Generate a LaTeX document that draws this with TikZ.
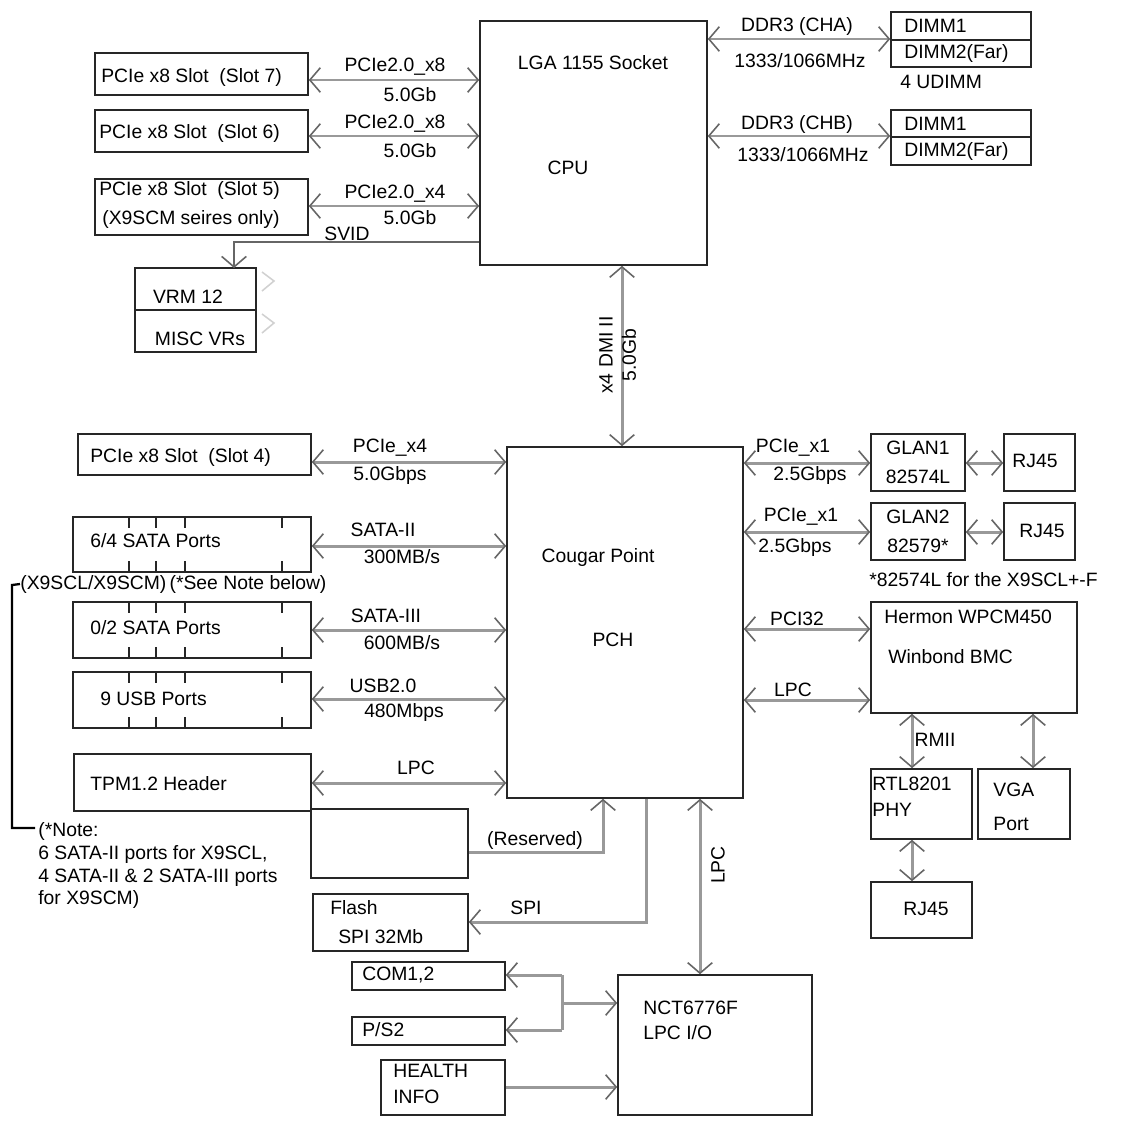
\documentclass[tikz,border=0pt]{standalone}
\usepackage{fontspec}
\setmainfont{Liberation Sans}
\usetikzlibrary{arrows.meta}
\tikzset{
  boxst/.style={draw=black!85,line width=0.9pt,inner sep=0pt},
  lbl/.style={inner sep=0pt,font=\fontsize{11}{13}\selectfont},
  bus/.style={draw=black!40,line width=1.7pt,arrows={Straight Barb[length=6pt,width=14pt,line width=0.9pt,color=black!60]-Straight Barb[length=6pt,width=14pt,line width=0.9pt,color=black!60]}},
  bus1/.style={draw=black!40,line width=1.7pt,arrows={-Straight Barb[length=6pt,width=14pt,line width=0.9pt,color=black!60]}},
  thin/.style={draw=black!85,line width=0.9pt},
}
\newcommand\mybox[5]{\node[boxst,minimum width=#4*0.02cm-#2*0.02cm,minimum height=#5*0.02cm-#3*0.02cm] (#1) at ({(#2+#4)/2},{(#3+#5)/2}) {};}
\begin{document}
\begin{tikzpicture}[x=0.02cm,y=-0.02cm]
\useasboundingbox (0,0) rectangle (1128,1126);
% CPU
\mybox{cpu}{480}{21}{707}{265}
\node[lbl] (cput1) at (593,63) {LGA 1155 Socket};
\node[lbl] (cput2) at (568,168) {CPU};
% slots
\mybox{s7}{95}{53}{308}{95}
\node[lbl,anchor=west] (s7t) at (101,77) {PCIe x8 Slot~~(Slot 7)};
\mybox{s6}{95}{110}{308}{152}
\node[lbl,anchor=west] (s6t) at (99,133) {PCIe x8 Slot~~(Slot 6)};
\mybox{s5}{95}{179}{308}{235}
\node[lbl,anchor=west] (s5t) at (99,190) {PCIe x8 Slot~~(Slot 5)};
\node[lbl,anchor=west] (s5u) at (102,219) {(X9SCM seires only)};
\draw[bus] (s7.east |- 0,80) -- (cpu.west |- 0,80);
\draw[bus] (s6.east |- 0,136) -- (cpu.west |- 0,136);
\draw[bus] (s5.east |- 0,206) -- (cpu.west |- 0,206);
\node[lbl] (l1a) at (395,67) {PCIe2.0\_x8};
\node[lbl] (l1b) at (410,95) {5.0Gb};
\node[lbl] (l2a) at (395,124) {PCIe2.0\_x8};
\node[lbl] (l2b) at (410,151) {5.0Gb};
\node[lbl] (l3a) at (395,194) {PCIe2.0\_x4};
\node[lbl] (l3b) at (410,218) {5.0Gb};
% VRM
\mybox{vrm}{135}{268}{256}{352}
\draw[thin] (vrm.west |- 0,310) -- (vrm.east |- 0,310);
\node[lbl] (vrmt) at (188,297) {VRM 12};
\node[lbl] (misct) at (200,339) {MISC VRs};
\draw[bus1,black!60,line width=0.9pt] (cpu.west |- 0,242) -| (234,268);
\node[lbl] (svid) at (347,234) {SVID};
\draw[black!18,line width=0.9pt] (262,272) -- (274,281) -- (262,291) (262,314) -- (274,323) -- (262,333);
% DIMM
\mybox{da}{891}{12}{1031}{67}
\draw[thin] (da.west |- 0,40) -- (da.east |- 0,40);
\node[lbl,anchor=west] (da1) at (904,26) {DIMM1};
\node[lbl,anchor=west] (da2) at (904,53) {DIMM2(Far)};
\node[lbl,anchor=west] (udimm) at (900,82) {4 UDIMM};
\mybox{db}{891}{110}{1031}{165}
\draw[thin] (db.west |- 0,137) -- (db.east |- 0,137);
\node[lbl,anchor=west] (db1) at (904,124) {DIMM1};
\node[lbl,anchor=west] (db2) at (904,151) {DIMM2(Far)};
\draw[bus] (cpu.east |- 0,39) -- (da.west |- 0,39);
\draw[bus] (cpu.east |- 0,136) -- (db.west |- 0,136);
\node[lbl] (ma1) at (797,26) {DDR3 (CHA)};
\node[lbl] (ma2) at (800,61) {1333/1066MHz};
\node[lbl] (mb1) at (797,124) {DDR3 (CHB)};
\node[lbl] (mb2) at (803,155) {1333/1066MHz};
% PCH
\mybox{pch}{507}{447}{743}{798}
\node[lbl] (pcht1) at (598,557) {Cougar Point};
\node[lbl] (pcht2) at (613,640) {PCH};
\draw[bus] (cpu.south -| 622,0) -- (pch.north -| 622,0);
\node[lbl,rotate=90] (dmi1) at (606,355) {x4 DMI II};
\node[lbl,rotate=90] (dmi2) at (629,355) {5.0Gb};
% left of PCH
\mybox{s4}{78}{434}{311}{475}
\node[lbl,anchor=west] (s4t) at (90,457) {PCIe x8 Slot~~(Slot 4)};
\mybox{sa}{73}{517}{311}{572}
\node[lbl,anchor=west] (sat) at (90,541) {6/4 SATA Ports};
\mybox{sb}{73}{602}{311}{658}
\node[lbl,anchor=west] (sbt) at (90,628) {0/2 SATA Ports};
\mybox{usb}{73}{672}{311}{728}
\node[lbl,anchor=west] (usbt) at (100,699) {9 USB Ports};
\foreach \b in {sa,sb,usb}{
  \foreach \x in {129,156,185,282}{
    \draw[thin] (\b.north -| \x,0) -- ++(0,12);
    \draw[thin] (\b.south -| \x,0) -- ++(0,-12);
  }}
\draw[thin] (145,517) -- (158,517);
\mybox{tpm}{74}{754}{311}{811}
\node[lbl,anchor=west] (tpmt) at (90,784) {TPM1.2 Header};
\draw[bus] (s4.east |- 0,462) -- (pch.west |- 0,462);
\draw[bus] (sa.east |- 0,546) -- (pch.west |- 0,546);
\draw[bus] (sb.east |- 0,630) -- (pch.west |- 0,630);
\draw[bus] (usb.east |- 0,699) -- (pch.west |- 0,699);
\draw[bus] (tpm.east |- 0,783) -- (pch.west |- 0,783);
\node[lbl] (p4a) at (390,448) {PCIe\_x4};
\node[lbl] (p4b) at (390,475) {5.0Gbps};
\node[lbl] (saa) at (383,530) {SATA-II};
\node[lbl] (sab) at (402,557) {300MB/s};
\node[lbl] (sba) at (386,616) {SATA-III};
\node[lbl] (sbb) at (402,643) {600MB/s};
\node[lbl] (ua) at (383,686) {USB2.0};
\node[lbl] (ub) at (404,712) {480Mbps};
\node[lbl] (lpca) at (416,768) {LPC};
\node[lbl,anchor=west] (note1) at (20,584) {(X9SCL/X9SCM)\,(*See Note below)};
\coordinate (brt) at (12,585);
\coordinate (brb) at (12,828);
\draw[black,line width=1.3pt] (note1.west) -- (brt) -- (brb) -- (35,828);
\node[lbl,anchor=north west,align=left] (note2) at (38,822) {(*Note:\\6 SATA-II ports for X9SCL,\\4 SATA-II \& 2 SATA-III ports\\for X9SCM)};
% Reserved & flash
\mybox{res}{311}{809}{468}{878}
\mybox{fl}{313}{894}{468}{951}
\node[lbl,anchor=west] (flt1) at (330,908) {Flash};
\node[lbl,anchor=west] (flt2) at (338,937) {SPI 32Mb};
\draw[bus1] (res.east |- 0,852) -| (pch.south -| 603,0);
\node[lbl] (rest) at (535,840) {(Reserved)};
\draw[bus1] (pch.south -| 646,0) |- (fl.east |- 0,922);
\node[lbl] (spit) at (526,908) {SPI};
% NCT
\mybox{nct}{618}{975}{812}{1115}
\node[lbl,anchor=west] (nt1) at (643,1008) {NCT6776F};
\node[lbl,anchor=west] (nt2) at (643,1033) {LPC I/O};
\draw[bus] (pch.south -| 700,0) -- (nct.north -| 700,0);
\node[lbl,rotate=90] (lpcv) at (718,865) {LPC};
\mybox{com}{352}{962}{505}{990}
\node[lbl,anchor=west] (comt) at (362,975) {COM1,2};
\mybox{ps}{352}{1017}{505}{1045}
\node[lbl,anchor=west] (pst) at (362,1030) {P/S2};
\mybox{hi}{381}{1060}{505}{1115}
\node[lbl,anchor=west] (hit1) at (393,1071) {HEALTH};
\node[lbl,anchor=west] (hit2) at (393,1097) {INFO};
\coordinate (jn) at (562,1003);
\draw[bus1] (562,975) -- (com.east |- 0,975);
\draw[bus1] (562,1030) -- (ps.east |- 0,1030);
\draw[draw=black!40,line width=1.7pt] (562,975) -- (562,1030);
\draw[bus1] (jn) -- (nct.west |- jn);
\draw[bus1] (hi.east |- 0,1087) -- (nct.west |- 0,1087);
% right side
\mybox{g1}{871}{434}{965}{491}
\node[lbl] (g1t1) at (918,448) {GLAN1};
\node[lbl] (g1t2) at (918,477) {82574L};
\mybox{r1}{1004}{434}{1075}{491}
\node[lbl] (r1t) at (1035,461) {RJ45};
\mybox{g2}{871}{503}{965}{560}
\node[lbl] (g2t1) at (918,517) {GLAN2};
\node[lbl] (g2t2) at (918,546) {82579*};
\mybox{r2}{1004}{503}{1075}{560}
\node[lbl] (r2t) at (1042,531) {RJ45};
\node[lbl,anchor=west] (gnote) at (869,580) {*82574L for the X9SCL+-F};
\draw[bus] (pch.east |- 0,463) -- (g1.west |- 0,463);
\draw[bus] (pch.east |- 0,532) -- (g2.west |- 0,532);
\draw[bus] (g1.east |- 0,463) -- (r1.west |- 0,463);
\draw[bus] (g2.east |- 0,532) -- (r2.west |- 0,532);
\node[lbl] (x1a) at (793,448) {PCIe\_x1};
\node[lbl] (x1b) at (810,475) {2.5Gbps};
\node[lbl] (x2a) at (801,517) {PCIe\_x1};
\node[lbl] (x2b) at (795,547) {2.5Gbps};
\mybox{bmc}{871}{602}{1077}{713}
\node[lbl,anchor=west] (bt1) at (884,617) {Hermon WPCM450};
\node[lbl,anchor=west] (bt2) at (888,657) {Winbond BMC};
\draw[bus] (pch.east |- 0,629) -- (bmc.west |- 0,629);
\draw[bus] (pch.east |- 0,700) -- (bmc.west |- 0,700);
\node[lbl] (pci) at (797,619) {PCI32};
\node[lbl] (lpcr) at (793,690) {LPC};
\mybox{rtl}{871}{769}{972}{839}
\node[lbl,anchor=west] (rtt1) at (872,784) {RTL8201};
\node[lbl,anchor=west] (rtt2) at (872,810) {PHY};
\mybox{vga}{978}{769}{1070}{839}
\node[lbl,anchor=west] (vt1) at (993,790) {VGA};
\node[lbl,anchor=west] (vt2) at (993,824) {Port};
\mybox{r3}{871}{882}{972}{938}
\node[lbl] (r3t) at (926,909) {RJ45};
\draw[bus] (bmc.south -| 912,0) -- (rtl.north -| 912,0);
\draw[bus] (bmc.south -| 1033,0) -- (vga.north -| 1033,0);
\draw[bus] (rtl.south -| 912,0) -- (r3.north -| 912,0);
\node[lbl] (rmii) at (935,740) {RMII};
\end{tikzpicture}
\end{document}
